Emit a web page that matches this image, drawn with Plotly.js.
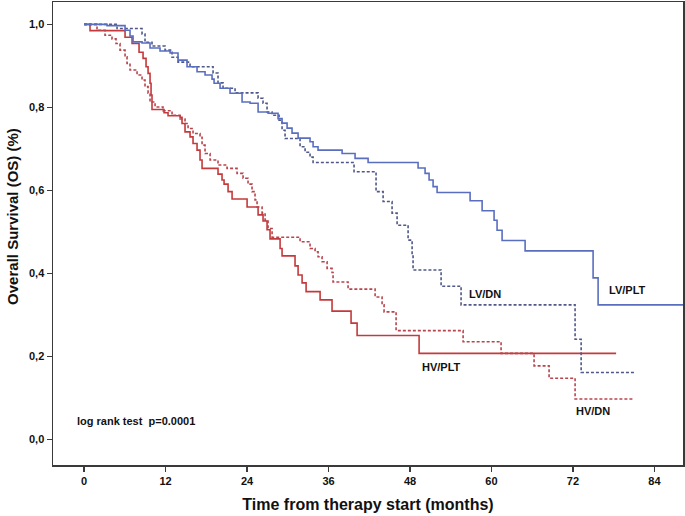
<!DOCTYPE html>
<html>
<head>
<meta charset="utf-8">
<script src="https://cdn.plot.ly/plotly-3.0.1.min.js"></script>
<style>html,body{margin:0;padding:0;background:#fff;}#chart{width:685px;height:516px;}</style>
</head>
<body>
<div id="chart"></div>
<script>
// Time (months) and survival for each group (step functions)
const lvPltTime = [0, 3.39, 6.04, 6.77, 7.22, 8.54, 9.72, 11.19, 12.67, 13.84, 15.17, 16.64, 17.82, 18.85, 19.15, 20.03, 21.50, 23.27, 24.45, 25.63, 27.10, 28.57, 29.16, 29.90, 30.63, 31.52, 33.28, 33.73, 34.46, 38.00, 39.91, 41.83, 49.19, 50.22, 50.81, 51.40, 51.99, 56.85, 58.62, 60.38, 60.82, 61.56, 64.95, 74.96, 75.70, 88.22];
const lvPltSurv = [1.000, 0.997, 0.986, 0.972, 0.958, 0.955, 0.943, 0.936, 0.931, 0.914, 0.898, 0.886, 0.878, 0.868, 0.858, 0.846, 0.834, 0.813, 0.810, 0.789, 0.786, 0.773, 0.762, 0.750, 0.738, 0.726, 0.717, 0.705, 0.697, 0.689, 0.677, 0.667, 0.654, 0.641, 0.625, 0.609, 0.595, 0.575, 0.551, 0.528, 0.504, 0.479, 0.454, 0.389, 0.324, 0.324];

const lvDnTime = [0, 4.86, 8.54, 8.98, 10.01, 11.93, 12.96, 13.84, 15.61, 19.00, 19.73, 20.47, 22.24, 25.63, 26.36, 26.95, 27.69, 28.72, 29.16, 29.60, 31.81, 32.55, 33.28, 33.73, 39.76, 43.00, 44.04, 45.36, 46.10, 47.72, 48.31, 48.45, 52.58, 55.52, 72.31, 73.20, 81.15];
const lvDnSurv = [1.000, 0.990, 0.977, 0.957, 0.948, 0.938, 0.921, 0.909, 0.898, 0.883, 0.859, 0.846, 0.835, 0.822, 0.810, 0.789, 0.781, 0.769, 0.745, 0.725, 0.705, 0.692, 0.680, 0.667, 0.645, 0.597, 0.573, 0.545, 0.516, 0.480, 0.444, 0.408, 0.369, 0.324, 0.241, 0.161, 0.161];

const hvPltTime = [0, 0.88, 6.04, 7.07, 8.10, 8.69, 9.13, 9.43, 9.72, 9.87, 10.01, 11.78, 12.37, 14.14, 14.43, 14.87, 15.61, 16.05, 16.64, 17.08, 17.38, 19.73, 20.32, 20.62, 21.21, 21.80, 24.01, 25.63, 26.36, 26.95, 27.39, 28.87, 29.16, 31.07, 31.52, 32.11, 32.70, 34.76, 36.52, 39.32, 40.21, 49.34, 78.35];
const hvPltSurv = [1.000, 0.985, 0.969, 0.954, 0.933, 0.918, 0.898, 0.882, 0.858, 0.830, 0.795, 0.787, 0.780, 0.776, 0.761, 0.741, 0.729, 0.713, 0.697, 0.673, 0.653, 0.639, 0.625, 0.615, 0.597, 0.579, 0.560, 0.541, 0.526, 0.505, 0.483, 0.460, 0.442, 0.418, 0.396, 0.377, 0.356, 0.336, 0.309, 0.280, 0.250, 0.207, 0.207];

const hvDnTime = [0, 1.91, 3.09, 4.12, 4.71, 5.30, 6.04, 6.33, 6.77, 7.81, 8.54, 8.98, 9.43, 9.72, 10.46, 11.63, 12.96, 14.14, 14.87, 15.32, 16.05, 17.08, 17.38, 17.82, 18.56, 19.73, 21.06, 22.53, 23.42, 24.15, 24.74, 25.18, 25.48, 26.22, 26.66, 27.10, 27.69, 31.81, 33.28, 34.02, 34.46, 35.05, 35.79, 36.52, 36.67, 38.88, 42.86, 43.89, 44.18, 45.95, 55.82, 61.41, 66.27, 68.48, 72.31, 80.85];
const hvDnSurv = [1.000, 0.986, 0.974, 0.965, 0.954, 0.938, 0.922, 0.906, 0.890, 0.878, 0.866, 0.850, 0.834, 0.813, 0.801, 0.792, 0.781, 0.772, 0.761, 0.749, 0.737, 0.728, 0.709, 0.689, 0.673, 0.661, 0.653, 0.641, 0.629, 0.615, 0.597, 0.577, 0.560, 0.545, 0.528, 0.508, 0.487, 0.476, 0.460, 0.452, 0.440, 0.428, 0.412, 0.402, 0.379, 0.362, 0.343, 0.324, 0.307, 0.262, 0.235, 0.207, 0.177, 0.147, 0.097, 0.097];

const xTickVals = [0, 12, 24, 36, 48, 60, 72, 84];
const xTickText = ['0', '12', '24', '36', '48', '60', '72', '84'];
const yTickVals = [0, 0.2, 0.4, 0.6, 0.8, 1.0];
const yTickText = ['0,0', '0,2', '0,4', '0,6', '0,8', '1,0'];

const groupLabels = ['LV/PLT', 'LV/DN', 'HV/PLT', 'HV/DN'];
const statText = 'log rank test  p=0.0001';
const xTitle = 'Time from therapy start (months)';
const yTitle = 'Overall Survival (OS) (%)';

const F = 'Liberation Sans, Arial, sans-serif';

function stepTrace(x, y, color, dash, name) {
  return {x: x, y: y, type: 'scatter', mode: 'lines', name: name,
    line: {shape: 'hv', color: color, width: 1.6, dash: dash}, hoverinfo: 'skip'};
}

const data = [
  stepTrace(hvPltTime, hvPltSurv, '#c43a3c', 'solid', groupLabels[2]),
  stepTrace(hvDnTime, hvDnSurv, '#b8444c', '3px,2px', groupLabels[3]),
  stepTrace(lvDnTime, lvDnSurv, '#4f5888', '3px,2px', groupLabels[1]),
  stepTrace(lvPltTime, lvPltSurv, '#5a6ec0', 'solid', groupLabels[0])
];

const annFont = {family: F, size: 11, color: '#111', weight: 'bold'};
const layout = {
  width: 685, height: 516,
  margin: {l: 53, r: 2, t: 2, b: 51},
  paper_bgcolor: '#fff', plot_bgcolor: '#fff',
  showlegend: false,
  xaxis: {
    range: [-4.57, 88.2], tickvals: xTickVals, ticktext: xTickText,
    showgrid: false, zeroline: false,
    showline: true, mirror: true, linecolor: '#3a3a3a', linewidth: 1.5,
    ticks: 'outside', ticklen: 5, tickwidth: 1.5, tickcolor: '#3a3a3a',
    tickfont: {family: F, size: 11, color: '#111', weight: 'bold'},
    title: {text: xTitle, standoff: 13,
      font: {family: F, size: 16, color: '#111', weight: 'bold'}}
  },
  yaxis: {
    range: [-0.062, 1.054], tickvals: yTickVals, ticktext: yTickText,
    showgrid: false, zeroline: false,
    showline: true, mirror: true, linecolor: '#3a3a3a', linewidth: 1.5,
    ticks: 'outside', ticklen: 5, tickwidth: 1.5, tickcolor: '#3a3a3a',
    tickfont: {family: F, size: 11, color: '#111', weight: 'bold'}
  },
  annotations: [
    {x: 80.1, y: 0.360, text: groupLabels[0], showarrow: false, font: annFont},
    {x: 59.1, y: 0.350, text: groupLabels[1], showarrow: false, font: annFont},
    {x: 52.6, y: 0.174, text: groupLabels[2], showarrow: false, font: annFont},
    {x: 75.0, y: 0.068, text: groupLabels[3], showarrow: false, font: annFont},
    {x: -1.33, y: 0.044, xanchor: 'left', text: statText, showarrow: false, font: annFont},
    {xref: 'paper', yref: 'paper', x: -0.0635, y: 0.538, xanchor: 'center', yanchor: 'middle',
      textangle: -90, text: yTitle, showarrow: false,
      font: {family: F, size: 15, color: '#111', weight: 'bold'}}
  ]
};

Plotly.newPlot('chart', data, layout, {displayModeBar: false, staticPlot: true});
</script>
</body>
</html>
